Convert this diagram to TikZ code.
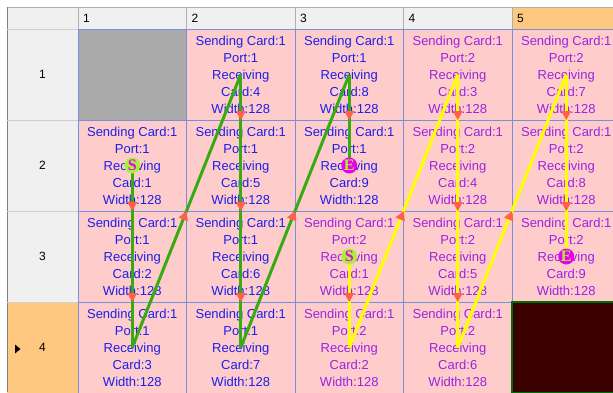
\documentclass[tikz,border=0pt]{standalone}
\usepackage{fontspec}
\setmainfont{Liberation Sans}
\newfontfamily\markfont{Liberation Serif}
\usepackage{xcolor}
\usetikzlibrary{arrows.meta, positioning, decorations.markings}

\definecolor{cellpink}{RGB}{255,204,204}
\definecolor{cellline}{RGB}{115,145,220}
\definecolor{portone}{RGB}{30,30,235}
\definecolor{porttwo}{RGB}{155,35,225}
\definecolor{headgray}{RGB}{240,240,240}
\definecolor{headline}{RGB}{175,175,175}
\definecolor{headorange}{RGB}{255,200,128}
\definecolor{deadgray}{RGB}{170,170,170}
\definecolor{darkcell}{RGB}{58,0,0}
\definecolor{darkedge}{RGB}{0,110,0}
\definecolor{pathgreen}{RGB}{55,170,20}
\definecolor{pathyellow}{RGB}{255,255,0}
\definecolor{arrowred}{RGB}{255,95,75}
\definecolor{markgreen}{RGB}{170,240,60}
\definecolor{markpink}{RGB}{235,0,235}

\begin{document}
\begin{tikzpicture}[
        x=1pt, y=-1pt,
        node distance=0pt,
        cell/.style={rectangle, draw=cellline, fill=cellpink, minimum width=108.5pt,
                     minimum height=91pt, inner sep=0pt, outer sep=0pt,
                     font=\fontsize{13}{17}\selectfont, align=center},
        pone/.style={cell, text=portone},
        ptwo/.style={cell, text=porttwo},
        colhead/.style={rectangle, fill=headgray, minimum height=22pt, text width=98.5pt,
                        inner xsep=5pt, inner ysep=0pt, outer sep=0pt, align=left,
                        font=\fontsize{12}{12}\selectfont, anchor=north west},
        rowhead/.style={rectangle, fill=headgray, minimum width=71pt, minimum height=91pt,
                        inner sep=0pt, outer sep=0pt, font=\fontsize{12}{12}\selectfont,
                        anchor=north west},
        link/.style={line width=3pt, postaction={decorate},
                     decoration={markings, mark=at position 0.5 with
                     {\arrow{Triangle[width=10pt, length=9pt, line width=0pt, color=arrowred]}}}},
        green link/.style={link, pathgreen},
        yellow link/.style={link, pathyellow},
        startmark/.style={circle, fill=markgreen, minimum size=16pt, inner sep=0pt,
                          text=markpink, font=\markfont\bfseries\fontsize{16}{16}\selectfont},
        endmark/.style={circle, fill=markpink, minimum size=16pt, inner sep=0pt,
                        text=markgreen, font=\markfont\bfseries\fontsize{16}{16}\selectfont},
    ]
        \useasboundingbox (0,0) rectangle (613,392);
        \clip (0,0) rectangle (613,392);
        \fill[white] (0,0) rectangle (613,392);

        % Column headers
        \node[colhead, minimum width=71pt, text width=61pt] (h0) at (7,7) {};
        \node[colhead] (h1) at (78,7) {1};
        \node[colhead] (h2) at (186.5,7) {2};
        \node[colhead] (h3) at (295,7) {3};
        \node[colhead] (h4) at (403.5,7) {4};
        \node[colhead, fill=headorange] (h5) at (512,7) {5};

        % Row headers
        \node[rowhead] (rh1) at (7,29) {};
        \node[rowhead] (rh2) at (7,120) {};
        \node[rowhead] (rh3) at (7,211) {};
        \node[rowhead, fill=headorange] (rh4) at (7,302) {};
        \node[font=\fontsize{12}{12}\selectfont] at (rh1.center) {1};
        \node[font=\fontsize{12}{12}\selectfont] at (rh2.center) {2};
        \node[font=\fontsize{12}{12}\selectfont] at (rh3.center) {3};
        \node[font=\fontsize{12}{12}\selectfont] at (rh4.center) {4};
        \fill[black] (15,344.5) -- (20.5,349) -- (15,353.5) -- cycle;

        % Header rules
        \draw[headline] (7,7) -- (613,7);
        \draw[gray] (7,7) -- (7,392);
        \draw[headline!60] (7,29) -- (613,29);
        \draw[headline] (h0.north east) -- (h0.south east);
        \draw[headline] (h1.north east) -- (h1.south east);
        \draw[headline] (h2.north east) -- (h2.south east);
        \draw[headline] (h3.north east) -- (h3.south east);
        \draw[headline] (h4.north east) -- (h4.south east);
        \draw[headline!60] (rh1.south west) -- (rh1.south east);
        \draw[headline!60] (rh2.south west) -- (rh2.south east);
        \draw[headline!60] (rh3.south west) -- (rh3.south east);

        % Row 1
        \node[cell, fill=deadgray, anchor=north west] (r1c1) at (78,29) {};
        \node[pone, right=of r1c1] (r1c2) {Sending Card:1\\Port:1\\Receiving\\Card:4\\Width:128};
        \node[pone, right=of r1c2] (r1c3) {Sending Card:1\\Port:1\\Receiving\\Card:8\\Width:128};
        \node[ptwo, right=of r1c3] (r1c4) {Sending Card:1\\Port:2\\Receiving\\Card:3\\Width:128};
        \node[ptwo, right=of r1c4] (r1c5) {Sending Card:1\\Port:2\\Receiving\\Card:7\\Width:128};

        % Row 2
        \node[pone, below=of r1c1] (r2c1) {Sending Card:1\\Port:1\\Receiving\\Card:1\\Width:128};
        \node[pone, right=of r2c1] (r2c2) {Sending Card:1\\Port:1\\Receiving\\Card:5\\Width:128};
        \node[pone, right=of r2c2] (r2c3) {Sending Card:1\\Port:1\\Receiving\\Card:9\\Width:128};
        \node[ptwo, right=of r2c3] (r2c4) {Sending Card:1\\Port:2\\Receiving\\Card:4\\Width:128};
        \node[ptwo, right=of r2c4] (r2c5) {Sending Card:1\\Port:2\\Receiving\\Card:8\\Width:128};

        % Row 3
        \node[pone, below=of r2c1] (r3c1) {Sending Card:1\\Port:1\\Receiving\\Card:2\\Width:128};
        \node[pone, right=of r3c1] (r3c2) {Sending Card:1\\Port:1\\Receiving\\Card:6\\Width:128};
        \node[ptwo, right=of r3c2] (r3c3) {Sending Card:1\\Port:2\\Receiving\\Card:1\\Width:128};
        \node[ptwo, right=of r3c3] (r3c4) {Sending Card:1\\Port:2\\Receiving\\Card:5\\Width:128};
        \node[ptwo, right=of r3c4] (r3c5) {Sending Card:1\\Port:2\\Receiving\\Card:9\\Width:128};

        % Row 4
        \node[pone, below=of r3c1] (r4c1) {Sending Card:1\\Port:1\\Receiving\\Card:3\\Width:128};
        \node[pone, right=of r4c1] (r4c2) {Sending Card:1\\Port:1\\Receiving\\Card:7\\Width:128};
        \node[ptwo, right=of r4c2] (r4c3) {Sending Card:1\\Port:2\\Receiving\\Card:2\\Width:128};
        \node[ptwo, right=of r4c3] (r4c4) {Sending Card:1\\Port:2\\Receiving\\Card:6\\Width:128};
        \node[cell, fill=darkcell, draw=darkedge, line width=1.5pt, right=of r4c4] (r4c5) {};

        % Port 1 chain
        \draw[green link] (r2c1.center) -- (r3c1.center);
        \draw[green link] (r3c1.center) -- (r4c1.center);
        \draw[green link] (r4c1.center) -- (r1c2.center);
        \draw[green link] (r1c2.center) -- (r2c2.center);
        \draw[green link] (r2c2.center) -- (r3c2.center);
        \draw[green link] (r3c2.center) -- (r4c2.center);
        \draw[green link] (r4c2.center) -- (r1c3.center);
        \draw[green link] (r1c3.center) -- (r2c3.center);

        % Port 2 chain
        \draw[yellow link] (r3c3.center) -- (r4c3.center);
        \draw[yellow link] (r4c3.center) -- (r1c4.center);
        \draw[yellow link] (r1c4.center) -- (r2c4.center);
        \draw[yellow link] (r2c4.center) -- (r3c4.center);
        \draw[yellow link] (r3c4.center) -- (r4c4.center);
        \draw[yellow link] (r4c4.center) -- (r1c5.center);
        \draw[yellow link] (r1c5.center) -- (r2c5.center);
        \draw[yellow link] (r2c5.center) -- (r3c5.center);

        % Start and end marks
        \node[startmark] (s1) at (r2c1.center) {S};
        \node[endmark] (e1) at (r2c3.center) {E};
        \node[startmark] (s2) at (r3c3.center) {S};
        \node[endmark] (e2) at (r3c5.center) {E};
    \end{tikzpicture}
\end{document}
